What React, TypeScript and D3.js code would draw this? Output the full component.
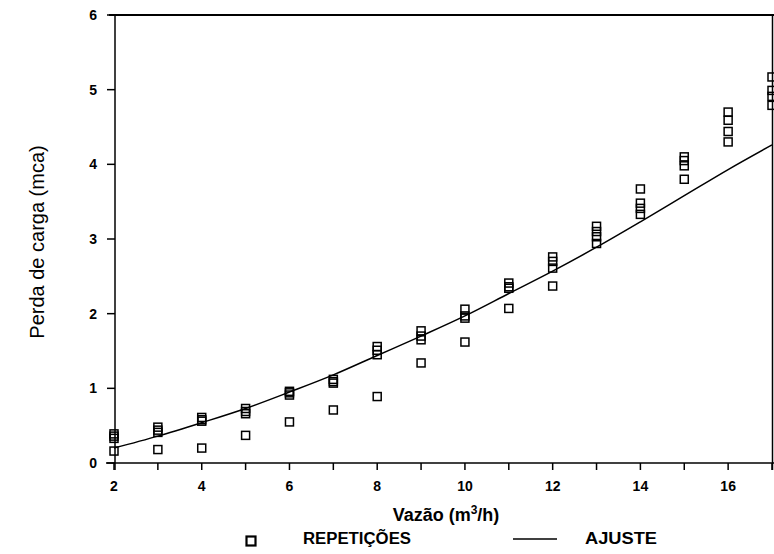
import React from "react";
import * as d3 from "d3";

const xValues = [2, 3, 4, 5, 6, 7, 8, 9, 10, 11, 12, 13, 14, 15, 16, 17];
// four repetitions per flow rate
const rep1 = [0.39, 0.48, 0.61, 0.73, 0.96, 1.12, 1.56, 1.77, 2.06, 2.41, 2.76, 3.17, 3.67, 4.1, 4.7, 5.17];
const rep2 = [0.36, 0.44, 0.58, 0.69, 0.94, 1.09, 1.51, 1.7, 1.97, 2.36, 2.7, 3.1, 3.48, 4.05, 4.59, 4.99];
const rep3 = [0.33, 0.41, 0.56, 0.66, 0.91, 1.07, 1.45, 1.65, 1.94, 2.34, 2.61, 3.03, 3.41, 3.98, 4.44, 4.91];
const rep4 = [0.16, 0.18, 0.2, 0.37, 0.55, 0.71, 0.89, 1.34, 1.62, 2.07, 2.37, 2.94, 3.33, 3.8, 4.3, 4.79];
// fitted curve read at each x
const fitValues = [0.2, 0.36, 0.54, 0.73, 0.95, 1.18, 1.44, 1.7, 1.97, 2.27, 2.57, 2.89, 3.23, 3.58, 3.93, 4.26];

const xTicks = [2, 3, 4, 5, 6, 7, 8, 9, 10, 11, 12, 13, 14, 15, 16, 17];
const xTickLabels = [2, 4, 6, 8, 10, 12, 14, 16];
const yTicks = [0, 1, 2, 3, 4, 5, 6];

const FONT = "'Liberation Sans', Arial, sans-serif";

export default function App() {
  const W = 774;
  const H = 554;
  const x = d3.scaleLinear().domain([2, 17]).range([114, 772]);
  const y = d3.scaleLinear().domain([0, 6]).range([463, 15]);
  const line = d3
    .line<number>()
    .x((_, i) => x(xValues[i]))
    .y((d) => y(d))
    .curve(d3.curveMonotoneX);

  const reps = [rep1, rep2, rep3, rep4];
  const sq = 8;

  return (
    <svg
      width={W}
      height={H}
      style={{ position: "absolute", left: 0, top: 0, background: "#fff" }}
      fontFamily={FONT}
    >
      <rect x={0} y={0} width={W} height={H} fill="#fff" />
      {/* frame */}
      <line x1={109} x2={774} y1={15} y2={15} stroke="#000" strokeWidth={2} />
      <line x1={106} x2={774} y1={463} y2={463} stroke="#000" strokeWidth={1.6} />
      <line x1={115} x2={115} y1={15} y2={470} stroke="#000" strokeWidth={1.5} />
      <line x1={772.5} x2={772.5} y1={15} y2={470} stroke="#000" strokeWidth={1.5} />
      {/* y ticks */}
      {yTicks.map((t) => (
        <g key={"y" + t}>
          <line x1={107} x2={115} y1={y(t)} y2={y(t)} stroke="#000" strokeWidth={1.5} />
          <text
            x={97}
            y={y(t)}
            textAnchor="end"
            dominantBaseline="central"
            fontSize={14}
            fontWeight="bold"
          >
            {t}
          </text>
        </g>
      ))}
      {/* x ticks */}
      {xTicks.map((t) => (
        <line key={"x" + t} x1={x(t)} x2={x(t)} y1={463} y2={470} stroke="#000" strokeWidth={1.5} />
      ))}
      {xTickLabels.map((t) => (
        <text key={"xl" + t} x={x(t)} y={491} textAnchor="middle" fontSize={14} fontWeight="bold">
          {t}
        </text>
      ))}
      {/* axis titles */}
      <text x={446} y={521} textAnchor="middle" fontSize={18} fontWeight="bold">
        Vazão (m
        <tspan fontSize={12} dy={-7}>
          3
        </tspan>
        <tspan dy={7}>/h)</tspan>
      </text>
      <text
        transform="translate(44,242) rotate(-90)"
        textAnchor="middle"
        fontSize={20}
      >
        Perda de carga (mca)
      </text>
      {/* fit curve */}
      <path d={line(fitValues) || ""} fill="none" stroke="#000" strokeWidth={1.5} />
      {/* points */}
      {reps.map((r, ri) =>
        r.map((v, i) => (
          <rect
            key={ri + "-" + i}
            x={x(xValues[i]) - sq / 2}
            y={y(v) - sq / 2}
            width={sq}
            height={sq}
            fill="none"
            stroke="#000"
            strokeWidth={1.5}
          />
        ))
      )}
      {/* legend */}
      <rect x={246.5} y={536.5} width={9} height={9} fill="none" stroke="#000" strokeWidth={2.2} />
      <text x={303} y={544} fontSize={16} fontWeight="bold" textLength={108} lengthAdjust="spacingAndGlyphs">
        REPETIÇÕES
      </text>
      <line x1={513} x2={557} y1={539} y2={539} stroke="#000" strokeWidth={1.5} />
      <text x={585} y={544} fontSize={16} fontWeight="bold" textLength={72} lengthAdjust="spacingAndGlyphs">
        AJUSTE
      </text>
    </svg>
  );
}
